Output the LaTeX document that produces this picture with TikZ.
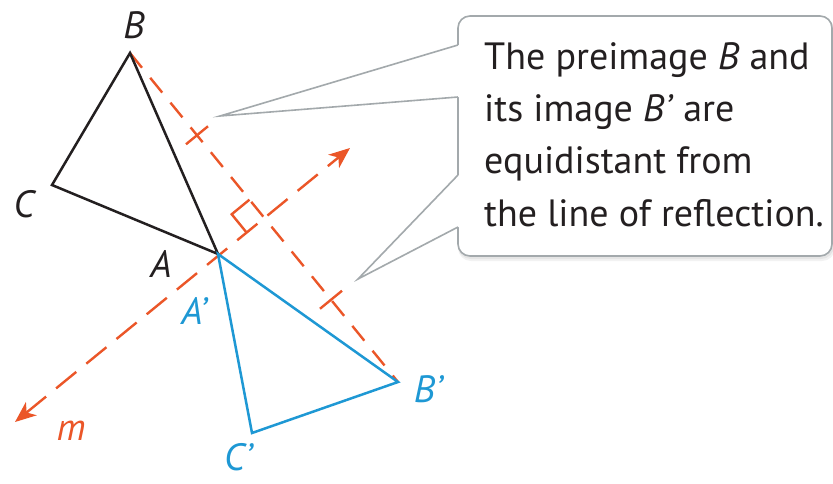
\documentclass[tikz,border=0pt]{standalone}
\usepackage{fontspec}
\setmainfont{PT Sans}
\usetikzlibrary{arrows.meta,calc}
\definecolor{lred}{HTML}{EB5628}
\definecolor{lblue}{HTML}{1E98D4}
\definecolor{lblack}{HTML}{231F20}
\definecolor{lgray}{HTML}{A3A9AC}
\begin{document}
\begin{tikzpicture}[x=1pt,y=-1pt,
  tri/.style={line width=2.5pt, line join=miter},
  preline/.style={tri, draw=lblack},
  imgline/.style={tri, draw=lblue},
  perpline/.style={draw=lred, line width=2.4pt, dash pattern=on 19pt off 13pt},
  mline/.style={draw=lred, line width=2.4pt, dash pattern=on 26pt off 13pt},
  redmark/.style={draw=lred, line width=2.4pt},
  lab/.style={font=\fontsize{38}{40}\selectfont\itshape, inner sep=0pt},
  callout/.style={draw=lgray, line width=1.6pt},
  notetext/.style={font=\fontsize{38}{52.4}\selectfont, text=lblack, inner sep=0pt, align=left}
]
\useasboundingbox (0,0) rectangle (833,483);
\fill[white] (0,0) rectangle (833,483);

% ---------- callout ----------
\fill[black,opacity=.05,rounded corners=13pt] (458,18) rectangle (835,261);
\fill[black,opacity=.05,rounded corners=13pt] (458,17) rectangle (834,259);
\node[callout, fill=white, rounded corners=12pt, minimum width=374pt,
      minimum height=240pt, inner sep=0pt] (box) at (645,136) {};
\coordinate (w1a) at (458,45);
\coordinate (w1b) at (458,97);
\coordinate (tipA) at (220,116);
\coordinate (w2a) at (458,175);
\coordinate (w2b) at (458,227);
\coordinate (tipB) at (358,279);
\fill[white] (w1a) -- (tipA) -- (w1b) -- ($(w1b)+(3,0)$) -- ($(w1a)+(3,0)$) -- cycle;
\fill[white] (w2a) -- (tipB) -- (w2b) -- ($(w2b)+(3,0)$) -- ($(w2a)+(3,0)$) -- cycle;
\draw[callout, line join=miter] (w1a) -- (tipA) -- (w1b);
\draw[callout, line join=miter] (w2a) -- (tipB) -- (w2b);
\node[notetext, anchor=north west] (note) at (484,42)
  {The preimage \textit{B} and\\its image \textit{B’} are\\equidistant from\\the line of reflection.};

% ---------- points ----------
\coordinate (B) at (130,53);
\coordinate (C) at (52,185);
\coordinate (A) at (218,254);
\coordinate (B1) at (398,382);
\coordinate (C1) at (252,433);
\coordinate (mlo) at (15,422);
\coordinate (mhi) at (350,148);
\coordinate (M) at ($(B)!0.5!(B1)$);
\coordinate (T1) at ($(B)!0.5!(M)$);
\coordinate (T2) at ($(M)!0.5!(B1)$);

% ---------- line of reflection and perpendicular ----------
\draw[mline, {Stealth[length=21pt,width=17pt,inset=6pt]}-{Stealth[length=21pt,width=17pt,inset=6pt]}, lred] (mlo) -- (mhi);
\draw[perpline] (B) -- (B1);

% tick marks
\draw[redmark] ($(T1)+(-11,9)$) -- ($(T1)+(11,-9)$);
\draw[redmark] ($(T2)+(-11,9)$) -- ($(T2)+(11,-9)$);

% right angle mark
\coordinate (R1) at ($(M)!23pt!(B)$);
\coordinate (R2) at ($(M)!23pt!(mlo)$);
\coordinate (RK) at ($(R1)+(R2)-(M)$);
\draw[redmark, line join=miter] (R1) -- (RK) -- (R2);

% ---------- triangles ----------
\draw[preline] (A) -- (B) -- (C) -- cycle;
\draw[imgline] (A) -- (B1) -- (C1) -- cycle;

% ---------- labels ----------
\node[lab, text=lblack] (lB) at (134,25) {B};
\node[lab, text=lblack] (lC) at (24,204) {C};
\node[lab, text=lblack] (lA) at (161,264) {A};
\node[lab, text=lblue] (lA1) at (194,311) {A’};
\node[lab, text=lblue] (lB1) at (428,389) {B’};
\node[lab, text=lblue] (lC1) at (238,457) {C’};
\node[lab, text=lred] (lm) at (71,431) {m};
\end{tikzpicture}
\end{document}
